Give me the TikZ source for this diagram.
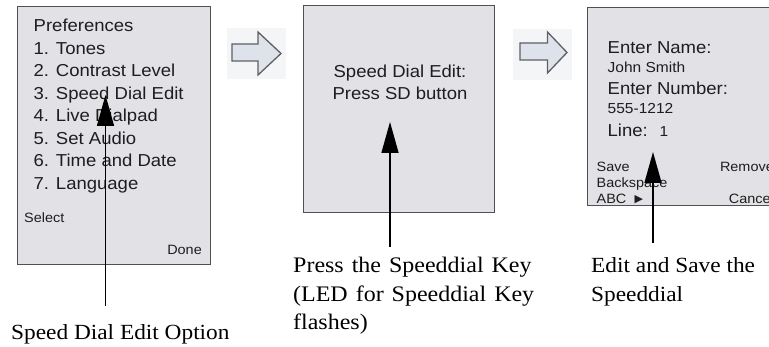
\documentclass[tikz,border=0pt]{standalone}
\usepackage{fontspec}
\setmainfont{Liberation Serif}[FakeStretch=1.08]
\newfontfamily\boxfont{Liberation Sans}[FakeStretch=1.07]
\newfontfamily\symfont{DejaVu Sans}
\usetikzlibrary{arrows.meta}
\newcommand\widewords{\spaceskip 8pt plus 1pt minus 1pt\relax}
\definecolor{screenfill}{RGB}{225,225,230}
\definecolor{screenline}{RGB}{80,80,80}
\definecolor{iconbg}{RGB}{243,245,247}
\definecolor{iconfill}{RGB}{222,227,235}
\definecolor{iconline}{RGB}{95,95,100}
\definecolor{screentext}{RGB}{30,30,30}
\tikzset{
  screen/.style={draw=screenline, fill=screenfill, line width=1.2pt, anchor=north west, inner sep=0pt},
  big/.style={font=\boxfont\fontsize{17.3}{22.5}\selectfont, text=screentext, inner sep=0pt, anchor=base west},
  small/.style={font=\boxfont\fontsize{14.5}{17}\selectfont, text=screentext, inner sep=0pt, anchor=base west},
  soft/.style={font=\boxfont\fontsize{13.5}{16}\selectfont, text=screentext, inner sep=0pt, anchor=base west},
  caption/.style={font=\fontsize{21.6}{28.5}\selectfont, inner sep=0pt, anchor=base west},
  widecaption/.style={caption, font=\fontsize{22.2}{28.5}\selectfont\widewords},
  pointer/.style={line width=1.5pt, -{Triangle[length=31pt,width=17pt]}},
  blockarrow/.style={draw=iconline, fill=iconfill, line width=1.3pt, line join=miter},
}
\begin{document}
\begin{tikzpicture}[x=1pt,y=-1pt]
\useasboundingbox (0,0) rectangle (769,347);
\clip (0,0) rectangle (769,347);

% screens
\node[screen, minimum width=193pt, minimum height=258pt] (s1) at (17,6) {};
\node[screen, minimum width=191pt, minimum height=207pt] (s2) at (303,5) {};
\node[screen, minimum width=195pt, minimum height=198pt] (s3) at (587,7) {};

% block arrow icons
\fill[iconbg] (227,28) rectangle (286,79);
\draw[blockarrow] (232,44) -- (258,44) -- (258,32) -- (281,53.5) -- (258,75) -- (258,61) -- (232,61) -- cycle;
\fill[iconbg] (513,29) rectangle (572,80);
\draw[blockarrow] (520,43) -- (547.5,43) -- (547.5,32) -- (567,52.5) -- (547.5,73) -- (547.5,60) -- (520,60) -- cycle;

% screen 1 text
\node[big] (p0) at (33.5,31.7) {Preferences};
\node[big] (p1) at (33.5,54.2) {1. Tones};
\node[big] (p2) at (33.5,76.7) {2. Contrast Level};
\node[big] (p3) at (33.5,99.2) {3. Speed Dial Edit};
\node[big] (p4) at (33.5,121.7) {4. Live Dialpad};
\node[big] (p5) at (33.5,144.2) {5. Set Audio};
\node[big] (p6) at (33.5,166.7) {6. Time and Date};
\node[big] (p7) at (33.5,189.2) {7. Language};
\node[soft] (sel) at (24,223) {Select};
\node[soft, anchor=base east] (done) at (202,255) {Done};

% screen 2 text
\node[big, anchor=base] (sd1) at (400,78) {Speed Dial Edit:};
\node[big, anchor=base] (sd2) at (400,100) {Press SD button};

% screen 3 text
\node[big] (en) at (607.5,54) {Enter Name:};
\node[small] (jn) at (607.5,73) {John Smith};
\node[big] (enu) at (607.5,95) {Enter Number:};
\node[small] (num) at (607.5,113.5) {555-1212};
\node[big] (ln) at (607.5,137) {Line:};
\node[small] (lnv) at (659.5,137) {1};
\node[soft] (save) at (596.5,172) {Save};
\node[soft] (bsp) at (596.5,188) {Backspace};
\node[soft] (abc) at (596.5,204) {ABC};
\node[inner sep=0pt, anchor=base west, font=\symfont\fontsize{11}{13}\selectfont, text=screentext] (tri) at (634.5,203) {▶};
\node[soft, anchor=base east] (rem) at (774,172) {Remove};
\node[soft, anchor=base east] (can) at (774,204) {Cancel};

% captions
\node[caption] (c1) at (11,340) {Speed Dial Edit Option};
\node[widecaption] (c2a) at (293,273) {Press the Speeddial Key};
\node[widecaption] (c2b) at (293,301.5) {(LED for Speeddial Key};
\node[widecaption] (c2c) at (293,330) {flashes)};
\node[caption] (c3a) at (591,273) {Edit and Save the};
\node[caption] (c3b) at (591,301.5) {Speeddial};

% pointers
\coordinate (b1) at (105.5,306);
\coordinate (t1) at (105.5,95);
\coordinate (b2) at (390,247);
\coordinate (t2) at (390,122);
\coordinate (b3) at (653,243);
\coordinate (t3) at (653,152);
\draw[pointer] (b1) -- (t1);
\draw[pointer] (b2) -- (t2);
\draw[pointer] (b3) -- (t3);
\end{tikzpicture}
\end{document}
